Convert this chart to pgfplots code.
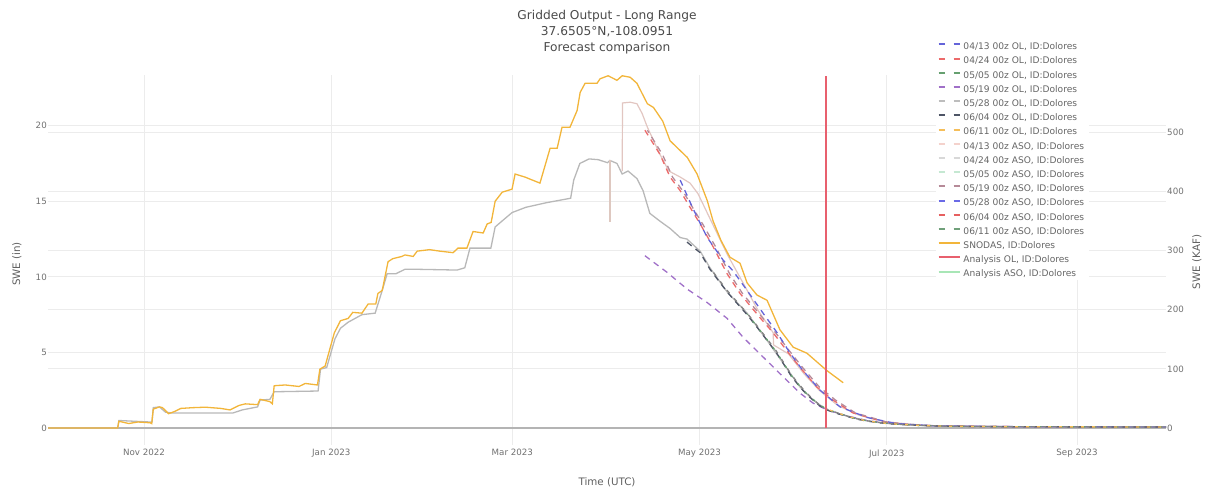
\documentclass[border=0pt]{standalone}
\usepackage{fontspec}
\setmainfont{DejaVu Sans}
\usepackage{pgfplots}
\pgfplotsset{compat=1.18}
\definecolor{gridc}{HTML}{ECECEC}
\definecolor{tickc}{HTML}{707070}
\definecolor{titc}{HTML}{4A4A4A}
\definecolor{labc}{HTML}{606060}
\definecolor{legc}{HTML}{666666}
\definecolor{zeroc}{HTML}{B4B4B4}
\definecolor{olblue}{HTML}{6464D9}
\definecolor{olred}{HTML}{EC6A6A}
\definecolor{olgreen}{HTML}{66A070}
\definecolor{olpurple}{HTML}{A070C8}
\definecolor{olgray}{HTML}{BDBDBD}
\definecolor{oldark}{HTML}{4E5566}
\definecolor{olorange}{HTML}{F5BE5A}
\definecolor{asopink}{HTML}{F4D2CC}
\definecolor{asogray}{HTML}{D8D8D8}
\definecolor{asogreen}{HTML}{C5E8D2}
\definecolor{asomauve}{HTML}{B68A98}
\definecolor{asoblue}{HTML}{6A6AE6}
\definecolor{asored}{HTML}{E66060}
\definecolor{asogreenb}{HTML}{70A07A}
\definecolor{snodas}{HTML}{F2B53A}
\definecolor{anaol}{HTML}{E8606E}
\definecolor{anaaso}{HTML}{A8E6B6}
\definecolor{swegray}{HTML}{B8B8B8}
\definecolor{beige}{HTML}{DEC8C0}
\tikzset{dl/.style={line width=1.3bp, dash pattern=on 6bp off 5bp},
  lgd/.style={line width=2bp, dash pattern=on 6bp off 9bp},
  lgs/.style={line width=2bp, solid}}
\begin{document}
\begin{tikzpicture}
\useasboundingbox (0,0) rectangle (1207bp,491bp);
% titles and axis labels
\node[align=center, font=\fontsize{12.2bp}{16bp}\selectfont, text=titc] at (607bp,459bp) {Gridded Output - Long Range\\37.6505°N,-108.0951\\Forecast comparison};
\node[font=\fontsize{10.3bp}{12bp}\selectfont, text=labc] at (607bp,9bp) {Time (UTC)};
\node[font=\fontsize{10.3bp}{12bp}\selectfont, text=labc, rotate=90] at (17bp,227bp) {SWE (in)};
\node[font=\fontsize{10.3bp}{12bp}\selectfont, text=labc, rotate=90] at (1197bp,229bp) {SWE (KAF)};
% right axis (KAF)
\begin{axis}[
  at={(48bp,46bp)}, anchor=south west, scale only axis,
  width=1118bp, height=370bp,
  xmin=-31.3, xmax=333, ymin=-28.7, ymax=596.5,
  axis x line=none, axis y line*=right,
  axis line style={draw=none}, tick style={draw=none},
  ytick={0,100,200,300,400,500},
  ymajorgrids, grid style={color=gridc, line width=0.8bp},
  ticklabel style={font=\fontsize{8.7bp}{10bp}\selectfont, text=tickc},
  /pgf/number format/assume math mode=true,
  yticklabel style={inner xsep=1bp},
]
\addplot[draw=none, forget plot] coordinates {(0,0)};
\end{axis}
% main axis
\begin{axis}[
  at={(48bp,46bp)}, anchor=south west, scale only axis,
  width=1118bp, height=370bp,
  xmin=-31.3, xmax=333, ymin=-1.12, ymax=23.35,
  axis line style={draw=none}, tick style={draw=none},
  xtick={0,61,120,181,242,304},
  xticklabels={Nov 2022,Jan 2023,Mar 2023,May 2023,Jul 2023,Sep 2023},
  ytick={0,5,10,15,20},
  xmajorgrids, ymajorgrids, grid style={color=gridc, line width=0.8bp},
  ticklabel style={font=\fontsize{8.7bp}{10bp}\selectfont, text=tickc},
  /pgf/number format/assume math mode=true,
  xticklabel style={yshift=-1bp},
  yticklabel style={inner xsep=1bp},
  legend image code/.code={\draw[#1] (0bp,2.8bp) -- (21bp,2.8bp);},
  legend cell align=left,
  legend style={
    at={(axis description cs:0.7938,1.0900)}, anchor=north west,
    draw=none, fill=white, inner xsep=2bp, inner ysep=1bp,
    font=\fontsize{9.1bp}{10bp}\selectfont,
    row sep=5.5bp,
    nodes={inner xsep=2.8bp, inner ysep=0bp, text height=6.7bp, text depth=2bp, text=legc},
  },
]
% zero line
\addplot[zeroc, line width=2bp, forget plot] coordinates {(-31.3,0) (333,0)};
% gray analysis-like line
\addplot[swegray, line width=1.3bp, forget plot] coordinates {
(-31.3,0) (-8.6,0) (-8.2,0.5) (2,0.4) (2.6,0.4) (3,1.35) (5,1.4) (7,1.05) (9,1.0) (29,1.0) (32,1.2) (37,1.4) (37.8,1.85) (41,1.9) (42.4,2.4) (56.7,2.45) (57.5,3.9) (59.5,4.0) (62.2,5.9) (64,6.6) (66.5,7.0) (71,7.5) (75.3,7.6) (77.6,9.1) (79.2,10.2) (82,10.2) (85,10.5) (89,10.5) (102,10.45) (104.5,10.6) (106.2,11.9) (113,11.9) (114.4,13.3) (116.7,13.7) (119.9,14.25) (124.4,14.6) (131,14.9) (139,15.2) (140,16.4) (142,17.5) (145,17.8) (148,17.75) (151,17.55) (151.8,17.7) (154.1,17.5) (155.8,16.8) (157.7,17.0) (160.6,16.5) (162.6,15.7) (164.8,14.2) (168,13.7) (171.4,13.2) (174.7,12.6) (176.9,12.5) (181.2,11.7) (184.4,10.6) (190,9.0) (196.5,7.6) (203,5.8) (208.2,4.3) (213.8,2.7) (218,1.85) (222.5,1.2) (229,0.8) (235.6,0.48) (243,0.3) (255,0.16) (275,0.1) (300,0.08) (333,0.07)};
% beige drop
\addplot[beige, line width=1.3bp, forget plot] coordinates {(151.8,17.7) (151.8,13.6)};
% pink ASO line
\addplot[asopink!85!gray, line width=1.2bp, forget plot] coordinates {
(155.8,17.0) (155.9,21.5) (158.4,21.55) (160.6,21.45) (162.3,20.8) (164,19.9) (168.1,18.1) (171,17.0) (174.7,16.6) (177.9,16.2) (180.5,15.5) (185,13.6) (190,11.5) (196,9.3) (200,7.8) (205,6.3) (205.1,5.5) (210,4.9) (215,3.6) (220,2.5) (226,1.5) (233,0.85) (242,0.4) (255,0.17) (280,0.09) (333,0.07)};
% SNODAS
\addplot[snodas, line width=1.3bp, forget plot] coordinates {
(-31.3,0) (-8.6,0) (-8.2,0.45) (-5,0.3) (-2,0.4) (2,0.35) (2.5,0.3) (3,1.25) (5,1.4) (6,1.35) (8,0.95) (10,1.1) (12,1.3) (16,1.35) (20,1.38) (25,1.3) (28,1.2) (31,1.5) (33,1.6) (37,1.55) (37.8,1.9) (41,1.75) (41.8,1.6) (42.4,2.8) (46,2.85) (50.5,2.75) (52.5,2.95) (56.5,2.85) (57.3,3.9) (59,4.1) (62,6.3) (64,7.1) (66.5,7.25) (68,7.65) (71,7.6) (73,8.2) (75.5,8.2) (76.2,8.9) (77.6,9.1) (79.5,11.0) (81,11.2) (84,11.35) (85,11.45) (87.7,11.35) (89,11.7) (93,11.8) (96.4,11.7) (100.7,11.6) (102.3,11.9) (105.2,11.9) (107.2,13.0) (110.5,12.9) (111.8,13.5) (113.1,13.6) (114.4,15.0) (116.7,15.6) (119.9,15.8) (120.9,16.8) (124.1,16.6) (129,16.2) (132.3,18.5) (134.6,18.5) (136.2,19.9) (138.8,19.9) (141.1,21.0) (142.1,22.2) (143.7,22.8) (147.6,22.8) (148.6,23.1) (151.2,23.3) (154.1,23.0) (155.8,23.3) (158.4,23.2) (160.6,22.8) (164,21.45) (166,21.2) (169,20.3) (171.4,19.0) (174.7,18.35) (177,17.9) (180.2,16.8) (183.5,15.05) (185.4,13.7) (188,12.4) (190.9,11.3) (194.2,10.9) (196.5,9.6) (199.7,8.8) (203,8.45) (207.2,6.5) (211.5,5.35) (216,4.95) (222.5,3.8) (227.8,3.0)};
% purple dashed (lower)
\addplot[olpurple, dl, forget plot] coordinates {
(163.2,11.4) (170.4,10.3) (176.9,9.2) (183.5,8.3) (190,7.25) (195.2,6.0) (201.7,4.7) (208.2,3.4) (213.8,2.3) (218,1.65) (222.5,1.2) (229,0.8) (236,0.48) (245,0.26) (260,0.13) (285,0.09) (333,0.07)};
% red dashed
\addplot[olred, dl, forget plot] coordinates {
(163.2,19.7) (168.1,18.1) (171.4,16.6) (174.7,15.7) (177.9,14.6) (181.2,13.5) (185.4,12.0) (190,10.2) (194.2,8.9) (200.7,7.3) (205,6.3) (209.5,5.1) (213.8,4.0) (219.3,2.7) (224.5,1.85) (231,1.0) (240.8,0.42) (250,0.2) (262,0.12) (285,0.09) (333,0.07)};
% mauve dashed beside red path
\addplot[asomauve, dl, dash phase=3bp, forget plot] coordinates {
(164.0,19.7) (168.9,18.1) (172.2,16.6) (175.5,15.7) (178.7,14.6) (182.0,13.5) (186.2,12.0) (190.8,10.2) (195.0,8.9) (201.5,7.3) (205.8,6.3) (210.3,5.1) (214.6,4.0) (220.1,2.7) (225.3,1.85) (231.8,1.0) (241.6,0.42) (250.8,0.2) (262.8,0.12) (285,0.09) (333,0.07)};
% blue dashed
\addplot[olblue, dl, forget plot] coordinates {
(174.7,16.4) (178.9,14.5) (183.5,12.6) (188.7,11.1) (191.9,10.4) (196.5,9.1) (201.7,7.6) (206.3,6.3) (210.5,4.95) (214.7,3.8) (220.3,2.5) (226.8,1.4) (235.6,0.7) (245,0.3) (258,0.14) (285,0.09) (333,0.07)};
% bundle: dark, gray, green, orange
\addplot[oldark, dl, forget plot] coordinates {
(176.9,12.3) (181.2,11.6) (184.4,10.5) (187,9.8) (190,9.0) (193,8.3) (196.5,7.5) (200,6.6) (203,5.8) (206,5.0) (208.2,4.3) (211,3.4) (213.8,2.7) (216,2.2) (218,1.85) (220,1.5) (222.5,1.2) (226,0.95) (229,0.78) (232,0.6) (235.6,0.46) (240,0.34) (245,0.25) (252,0.18) (262,0.12) (280,0.09) (300,0.08) (333,0.07)};
\addplot[olgray!70!black, line width=1.3bp, dash pattern=on 4bp off 7bp, dash phase=5bp, forget plot] coordinates {
(184.4,10.6) (187,9.9) (190,9.1) (193,8.4) (196.5,7.6) (200,6.7) (203,5.9) (206,5.1) (208.2,4.4) (211,3.5) (213.8,2.8) (216,2.3) (218,1.9) (220,1.55) (222.5,1.25) (226,1.0) (229,0.8) (232,0.62) (235.6,0.48) (240,0.35) (245,0.26) (252,0.18) (262,0.12) (280,0.09) (300,0.08) (333,0.07)};
\addplot[olgreen, line width=1.3bp, dash pattern=on 3bp off 8bp, dash phase=2bp, forget plot] coordinates {
(196.5,7.55) (200,6.65) (203,5.85) (206,5.05) (208.2,4.35) (211,3.45) (213.8,2.75) (216,2.25) (218,1.9) (220,1.55) (222.5,1.25) (226,1.0) (229,0.8) (232,0.62) (235.6,0.48) (240,0.35) (245,0.26) (252,0.18) (262,0.12) (280,0.09) (300,0.08) (333,0.07)};
\addplot[olorange, line width=1.3bp, dash pattern=on 3bp off 8bp, dash phase=7bp, forget plot] coordinates {
(222.2,1.28) (226,1.0) (229,0.8) (232,0.62) (235.6,0.48) (240,0.35) (245,0.26) (252,0.18) (262,0.12) (280,0.09) (300,0.08) (333,0.07)};
% analysis OL vertical
\addplot[anaol, line width=1.1bp, forget plot] coordinates {(222.2,0) (222.2,23.3)};
% legend
\addlegendimage{draw=olblue, lgd}
\addlegendentry{04/13 00z OL, ID:Dolores}
\addlegendimage{draw=olred, lgd}
\addlegendentry{04/24 00z OL, ID:Dolores}
\addlegendimage{draw=olgreen, lgd}
\addlegendentry{05/05 00z OL, ID:Dolores}
\addlegendimage{draw=olpurple, lgd}
\addlegendentry{05/19 00z OL, ID:Dolores}
\addlegendimage{draw=olgray, lgd}
\addlegendentry{05/28 00z OL, ID:Dolores}
\addlegendimage{draw=oldark, lgd}
\addlegendentry{06/04 00z OL, ID:Dolores}
\addlegendimage{draw=olorange, lgd}
\addlegendentry{06/11 00z OL, ID:Dolores}
\addlegendimage{draw=asopink, lgd}
\addlegendentry{04/13 00z ASO, ID:Dolores}
\addlegendimage{draw=asogray, lgd}
\addlegendentry{04/24 00z ASO, ID:Dolores}
\addlegendimage{draw=asogreen, lgd}
\addlegendentry{05/05 00z ASO, ID:Dolores}
\addlegendimage{draw=asomauve, lgd}
\addlegendentry{05/19 00z ASO, ID:Dolores}
\addlegendimage{draw=asoblue, lgd}
\addlegendentry{05/28 00z ASO, ID:Dolores}
\addlegendimage{draw=asored, lgd}
\addlegendentry{06/04 00z ASO, ID:Dolores}
\addlegendimage{draw=asogreenb, lgd}
\addlegendentry{06/11 00z ASO, ID:Dolores}
\addlegendimage{draw=snodas, lgs}
\addlegendentry{SNODAS, ID:Dolores}
\addlegendimage{draw=anaol, lgs}
\addlegendentry{Analysis OL, ID:Dolores}
\addlegendimage{draw=anaaso, lgs}
\addlegendentry{Analysis ASO, ID:Dolores}
\end{axis}
\end{tikzpicture}
\end{document}
